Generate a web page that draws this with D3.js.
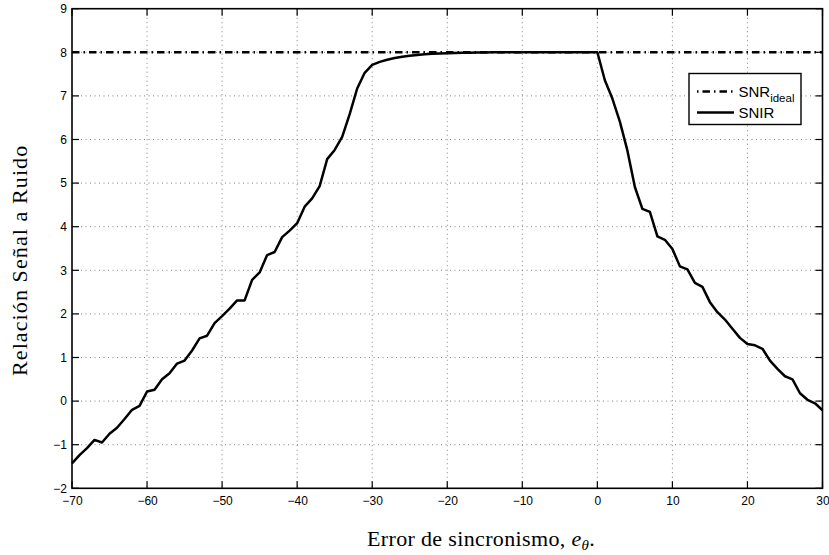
<!DOCTYPE html>
<html>
<head>
<meta charset="utf-8">
<script src="https://cdn.jsdelivr.net/npm/d3@7/dist/d3.min.js"></script>
<style>
  html, body { margin: 0; padding: 0; background: #fff; }
  svg { display: block; }
</style>
</head>
<body>
<svg id="chart" width="829" height="555"></svg>
<script>
// Synchronisation error (degrees) and resulting signal-to-noise(+interference) ratio
const errorValues = [
  -70, -69, -68, -67, -66, -65, -64, -63, -62, -61,
  -60, -59, -58, -57, -56, -55, -54, -53, -52, -51,
  -50, -49, -48, -47, -46, -45, -44, -43, -42, -41,
  -40, -39, -38, -37, -36, -35, -34, -33, -32, -31,
  -30, -29, -28, -27, -26, -25, -24, -23, -22, -21,
  -20, -19, -18, -17, -16, -15, -14, -13, -12, -11,
  -10, -9, -8, -7, -6, -5, -4, -3, -2, -1,
  0, 1, 2, 3, 4, 5, 6, 7, 8, 9,
  10, 11, 12, 13, 14, 15, 16, 17, 18, 19,
  20, 21, 22, 23, 24, 25, 26, 27, 28, 29, 30
];
const snirValues = [
  -1.43, -1.24, -1.08, -0.89, -0.95, -0.75, -0.61, -0.41, -0.20, -0.11,
  0.22, 0.26, 0.50, 0.64, 0.86, 0.93, 1.16, 1.44, 1.50, 1.79,
  1.95, 2.12, 2.31, 2.31, 2.78, 2.95, 3.35, 3.42, 3.76, 3.91,
  4.08, 4.46, 4.65, 4.93, 5.55, 5.76, 6.06, 6.58, 7.17, 7.53,
  7.71, 7.78, 7.83, 7.87, 7.90, 7.92, 7.94, 7.955, 7.965, 7.975,
  7.98, 7.985, 7.99, 7.99, 7.995, 7.995, 8.0, 8.0, 8.0, 8.0,
  8.0, 8.0, 8.0, 8.0, 8.0, 8.0, 8.0, 8.0, 8.0, 8.0,
  8.0, 7.36, 6.94, 6.41, 5.75, 4.91, 4.41, 4.34, 3.78, 3.70,
  3.49, 3.09, 3.02, 2.71, 2.62, 2.27, 2.04, 1.87, 1.66, 1.45,
  1.31, 1.28, 1.20, 0.93, 0.74, 0.57, 0.50, 0.18, 0.03, -0.05, -0.21
];
const snrIdeal = 8;

const xTicks = [-70, -60, -50, -40, -30, -20, -10, 0, 10, 20, 30];
const yTicks = [-2, -1, 0, 1, 2, 3, 4, 5, 6, 7, 8, 9];
const legendLabels = ["SNR", "SNIR"];
const legendSub = "ideal";
const xTitle = "Error de sincronismo, ";
const yTitle = "Relación Señal a Ruido";

const svg = d3.select("#chart");
const plotLeft = 72, plotRight = 822.5, plotTop = 8.7, plotBottom = 488.3;

const x = d3.scaleLinear().domain([-70, 30]).range([plotLeft, plotRight]);
const y = d3.scaleLinear().domain([-2, 9]).range([plotBottom, plotTop]);

const tickFont = "'Liberation Sans', Arial, Helvetica, sans-serif";
const serif = "'Liberation Serif', 'Times New Roman', serif";

// dotted grid
const grid = svg.append("g").attr("stroke", "#808080").attr("stroke-width", 1)
  .attr("stroke-dasharray", "1,3.5").attr("fill", "none");
xTicks.slice(1, -1).forEach(t => {
  grid.append("line").attr("x1", x(t)).attr("x2", x(t)).attr("y1", plotTop).attr("y2", plotBottom);
});
yTicks.slice(1, -1).forEach(t => {
  grid.append("line").attr("x1", plotLeft).attr("x2", plotRight).attr("y1", y(t)).attr("y2", y(t));
});

// axes (ticks pointing inwards, on all four sides)
const tickLen = 7;
const axisBottom = d3.axisBottom(x).tickValues(xTicks).tickSize(0).tickPadding(8)
  .tickFormat(d3.format("d"));
const gx = svg.append("g").attr("transform", `translate(0,${plotBottom})`).call(axisBottom);
gx.select(".domain").remove();
gx.selectAll("text").attr("font-family", tickFont).attr("font-size", 12).attr("fill", "#000")
  .attr("dy", "0.71em");

const axisLeft = d3.axisLeft(y).tickValues(yTicks).tickSize(0).tickPadding(5)
  .tickFormat(d3.format("d"));
const gy = svg.append("g").attr("transform", `translate(${plotLeft},0)`).call(axisLeft);
gy.select(".domain").remove();
gy.selectAll("text").attr("font-family", tickFont).attr("font-size", 12).attr("fill", "#000");

const ticks = svg.append("g").attr("stroke", "#000").attr("stroke-width", 1.2);
xTicks.forEach(t => {
  ticks.append("line").attr("x1", x(t)).attr("x2", x(t)).attr("y1", plotBottom).attr("y2", plotBottom - tickLen);
  ticks.append("line").attr("x1", x(t)).attr("x2", x(t)).attr("y1", plotTop).attr("y2", plotTop + tickLen);
});
yTicks.forEach(t => {
  ticks.append("line").attr("x1", plotLeft).attr("x2", plotLeft + tickLen).attr("y1", y(t)).attr("y2", y(t));
  ticks.append("line").attr("x1", plotRight).attr("x2", plotRight - tickLen).attr("y1", y(t)).attr("y2", y(t));
});

// SNR ideal reference line
svg.append("line")
  .attr("x1", x(-70)).attr("x2", x(30)).attr("y1", y(snrIdeal)).attr("y2", y(snrIdeal))
  .attr("stroke", "#000").attr("stroke-width", 2.4).attr("stroke-dasharray", "7.5,4,1.5,4");

// SNIR curve
const line = d3.line().x((d, i) => x(errorValues[i])).y(d => y(d));
svg.append("path").datum(snirValues)
  .attr("d", line).attr("fill", "none").attr("stroke", "#000")
  .attr("stroke-width", 2.5).attr("stroke-linejoin", "round");

// frame
svg.append("rect").attr("x", plotLeft).attr("y", plotTop)
  .attr("width", plotRight - plotLeft).attr("height", plotBottom - plotTop)
  .attr("fill", "none").attr("stroke", "#000").attr("stroke-width", 1.6);

// legend
const lg = svg.append("g");
lg.append("rect").attr("x", 689).attr("y", 73.5).attr("width", 112).attr("height", 51)
  .attr("fill", "#fff").attr("stroke", "#000").attr("stroke-width", 1.4);
lg.append("line").attr("x1", 697).attr("x2", 734).attr("y1", 91.5).attr("y2", 91.5)
  .attr("stroke", "#000").attr("stroke-width", 2.4).attr("stroke-dasharray", "1.5,4,7.5,4,1.5,4,7.5,4");
lg.append("line").attr("x1", 697).attr("x2", 734).attr("y1", 112.5).attr("y2", 112.5)
  .attr("stroke", "#000").attr("stroke-width", 2.5);
const t1 = lg.append("text").attr("x", 738.5).attr("y", 96.5)
  .attr("font-family", tickFont).attr("font-size", 15).attr("fill", "#000");
t1.append("tspan").text(legendLabels[0]);
t1.append("tspan").attr("dy", 5).attr("font-size", 11.5).text(legendSub);
lg.append("text").attr("x", 738.5).attr("y", 118)
  .attr("font-family", tickFont).attr("font-size", 15).attr("fill", "#000").text(legendLabels[1]);

// axis titles
const xt = svg.append("text").attr("x", 367).attr("y", 546)
  .attr("font-family", serif).attr("font-size", 22).attr("letter-spacing", 0.35).attr("fill", "#000");
xt.append("tspan").text(xTitle);
xt.append("tspan").attr("font-style", "italic").text("e");
xt.append("tspan").attr("font-style", "italic").attr("font-size", 15).attr("dy", 4).text("θ");
xt.append("tspan").attr("dy", -4).text(".");

svg.append("text")
  .attr("transform", "translate(27,376) rotate(-90)")
  .attr("font-family", serif).attr("font-size", 22).attr("letter-spacing", 1.1).attr("fill", "#000")
  .text(yTitle);
</script>
</body>
</html>
